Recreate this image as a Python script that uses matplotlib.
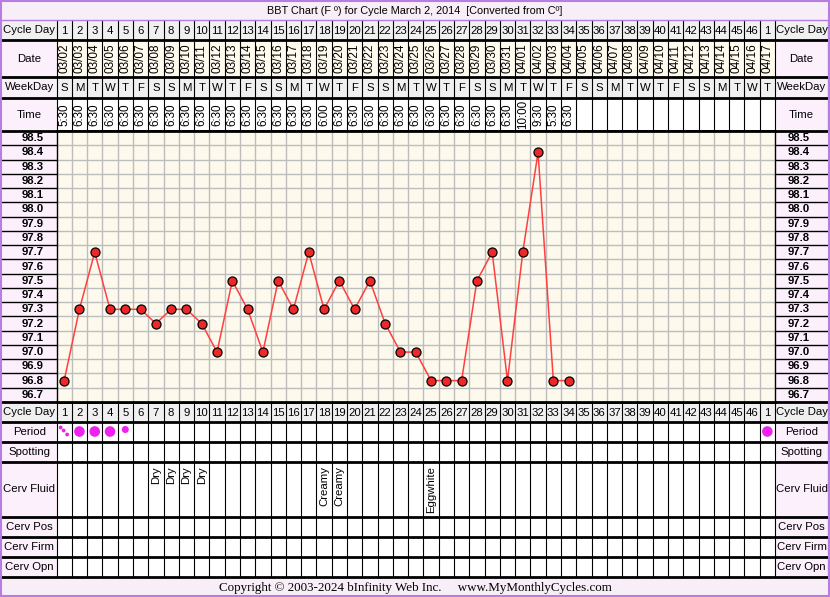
import numpy as np
import pandas as pd
import matplotlib
matplotlib.use("Agg")
import matplotlib.pyplot as plt
from matplotlib.patches import Rectangle, Circle
from matplotlib.transforms import blended_transform_factory

plt.rcParams['font.family'] = ['Liberation Sans', 'DejaVu Sans']

# ---- data ----
cycle_days = list(range(1, 47)) + [1]
dates = [d.strftime('%m/%d') for d in pd.date_range('2014-03-02', periods=47)]
weekdays = ['S', 'M', 'T', 'W', 'T', 'F', 'S']
temps = [96.8, 97.3, 97.7, 97.3, 97.3, 97.3, 97.2, 97.3, 97.3, 97.2,
         97.0, 97.5, 97.3, 97.0, 97.5, 97.3, 97.7, 97.3, 97.5, 97.3,
         97.5, 97.2, 97.0, 97.0, 96.8, 96.8, 96.8, 97.5, 97.7, 96.8,
         97.7, 98.4, 96.8, 96.8]
times = ['5:30'] + ['6:30'] * 16 + ['6:00'] + ['6:30'] * 12 + ['10:00', '9:30', '5:30', '6:30']
temp_labels = [round(96.7 + 0.1 * k, 1) for k in range(19)]
period = {1: 'spot', 2: 'heavy', 3: 'heavy', 4: 'heavy', 5: 'light', 47: 'heavy'}
cerv_fluid = {7: 'Dry', 8: 'Dry', 9: 'Dry', 10: 'Dry', 18: 'Creamy', 19: 'Creamy', 25: 'Eggwhite'}

title = 'BBT Chart (F º) for Cycle March 2, 2014  [Converted from Cº]'
footer = 'Copyright © 2003-2024 bInfinity Web Inc.     www.MyMonthlyCycles.com'

# ---- layout (pixels) ----
W, H = 830, 597
x0, x1 = 56.5, 775
ncol = 47
cw = (x1 - x0) / ncol
chart_top, chart_bot = 131, 402
pink = '#fdf0fd'
gray = '#f0f0f0'

fig = plt.figure(figsize=(W / 100, H / 100), dpi=100)
bg = fig.add_axes([0, 0, 1, 1])
bg.set_xlim(0, W)
bg.set_ylim(H, 0)
bg.axis('off')

def cx(i):
    return x0 + (i - 0.5) * cw

bg.add_patch(Rectangle((0, 0), W, H, facecolor='white', edgecolor='none'))
bg.add_patch(Rectangle((1, 1), W - 2, 19, facecolor='#f8eef8', edgecolor='none'))
bg.add_patch(Rectangle((1, 577), W - 2, 19, facecolor='#f8eef8', edgecolor='none'))
bg.text(W / 2, 10.5, title, ha='center', va='center', fontsize=7.8)
bg.text(415, 588, footer, ha='center', va='center', fontsize=9.4,
        family=['Liberation Serif', 'DejaVu Serif'])

top_rows = [('Cycle Day', 20, 40, gray, gray),
            ('Date', 40, 77, pink, '#fffbef'),
            ('WeekDay', 77, 98, '#f8f0f8', gray),
            ('Time', 98, 131, pink, 'white')]
bot_rows = [('Cycle Day', 402, 422, gray, gray),
            ('Period', 422, 442, pink, 'white'),
            ('Spotting', 442, 462, pink, 'white'),
            ('Cerv Fluid', 462, 517, pink, 'white'),
            ('Cerv Pos', 517, 537, pink, 'white'),
            ('Cerv Firm', 537, 557, pink, 'white'),
            ('Cerv Opn', 557, 577, pink, 'white')]

for name, ya, yb, lab_c, cell_c in top_rows + bot_rows:
    bg.add_patch(Rectangle((2, ya), x0 - 2, yb - ya, facecolor=lab_c, edgecolor='none'))
    bg.add_patch(Rectangle((x1, ya), W - 2 - x1, yb - ya, facecolor=lab_c, edgecolor='none'))
    bg.add_patch(Rectangle((x0, ya), x1 - x0, yb - ya, facecolor=cell_c, edgecolor='none'))
    bg.text((2 + x0) / 2, (ya + yb) / 2, name, ha='center', va='center', fontsize=8.2)
    bg.text((x1 + W - 2) / 2, (ya + yb) / 2, name, ha='center', va='center', fontsize=8.2)
    # column separators
    for k in range(ncol + 1):
        bg.plot([x0 + k * cw] * 2, [ya, yb], color='black', lw=0.8)
    bg.plot([W - 2] * 2, [ya, yb], color='black', lw=0.8)

# row contents
for i in range(1, ncol + 1):
    c = cx(i)
    for ya, yb in [(20, 40), (402, 422)]:
        bg.text(c, (ya + yb) / 2 + 0.5, str(cycle_days[i - 1]), ha='center', va='center', fontsize=8.2)
    bg.text(c, 58.5, dates[i - 1], ha='center', va='center', rotation=90, fontsize=8.5)
    bg.text(c, 88, weekdays[(i - 1) % 7], ha='center', va='center', fontsize=8.2)
    if i <= len(times):
        bg.text(c, 114.5, times[i - 1], ha='center', va='center', rotation=90, fontsize=8.4)
    if i in cerv_fluid:
        bg.text(c, 466, cerv_fluid[i], ha='center', va='top', rotation=90, fontsize=8.2)
    p = period.get(i)
    if p == 'heavy':
        bg.add_patch(Circle((c, 431.5), 4.6, color='#ee22ee'))
    elif p == 'light':
        bg.add_patch(Circle((c, 429.5), 2.8, color='#ee22ee'))
    elif p == 'spot':
        for dx, dy in [(-3.5, -3.5), (-0.5, -0.5), (3, 3.5)]:
            bg.add_patch(Circle((c + dx, 431 + dy), 1.2, color='#ee22ee'))

# thick row borders
for y in [40, 77, 98, 131, 402, 422, 442, 462, 517, 537, 557, 577]:
    bg.plot([2, W - 2], [y, y], color='black', lw=2)
bg.plot([2, W - 2], [20, 20], color='#b77de0', lw=1)

# temperature label columns
bg.add_patch(Rectangle((2, chart_top), x0 - 2, chart_bot - chart_top, facecolor=pink, edgecolor='none'))
bg.add_patch(Rectangle((x1, chart_top), W - 2 - x1, chart_bot - chart_top, facecolor=pink, edgecolor='none'))

# ---- temperature chart ----
ax = fig.add_axes([x0 / W, 1 - chart_bot / H, (x1 - x0) / W, (chart_bot - chart_top) / H])
ax.set_facecolor('#fdf9ec')
ax.set_xlim(0.5, ncol + 0.5)
ax.set_ylim(96.65, 98.55)
ax.vlines(np.arange(1.5, ncol + 0.5), 96.65, 98.55, color='#bdbdbd', lw=1, zorder=1)
ax.hlines(np.arange(96.75, 98.5, 0.1), 0.5, ncol + 0.5, color='#bdbdbd', lw=1, zorder=1)
days = np.arange(1, len(temps) + 1)
ax.plot(days, temps, color='#ff4040', lw=1.1, zorder=2)
ax.plot(days, temps, 'o', ms=6.5, mfc='#ee2828', mec='black', mew=0.9, zorder=3)
ax.set_xticks([])
ax.set_yticks([])
for s in ax.spines.values():
    s.set_color('black')
    s.set_linewidth(1)
ax.spines['top'].set_linewidth(2)
ax.spines['bottom'].set_linewidth(2)

tr = blended_transform_factory(bg.transData, ax.transData)
for t in temp_labels:
    bg.text(33, t, f'{t:.1f}', transform=tr, ha='center', va='center',
            fontsize=8.2, fontweight='bold')
    bg.text(799, t, f'{t:.1f}', transform=tr, ha='center', va='center',
            fontsize=8.2, fontweight='bold')
for t in np.arange(96.75, 98.5, 0.1):
    bg.plot([2, x0], [t, t], transform=tr, color='black', lw=1)
    bg.plot([x1, W - 2], [t, t], transform=tr, color='black', lw=1)

# outer border
bg.add_patch(Rectangle((1, 1), W - 2, H - 2, facecolor='none', edgecolor='#b77de0', lw=1.5, zorder=10))

fig.savefig('out.png', dpi=100)
